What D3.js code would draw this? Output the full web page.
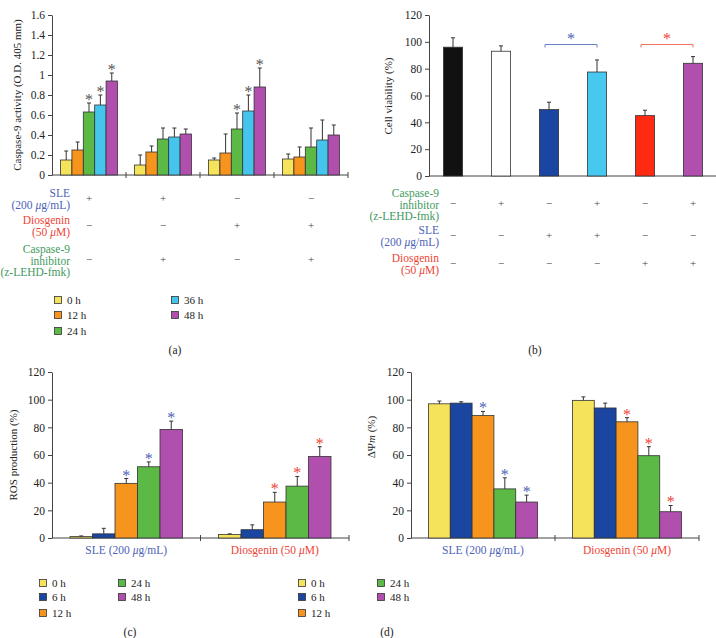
<!DOCTYPE html>
<html>
<head>
<meta charset="utf-8">
<script src="https://cdn.jsdelivr.net/npm/d3@7"></script>
<style>
body { margin: 0; background: #fff; }
svg text { font-family: "Liberation Serif", "DejaVu Serif", serif; }
</style>
</head>
<body>
<svg id="fig" width="716" height="638"></svg>
<script>
// ---- data ----
var timesA = ["0 h", "12 h", "24 h", "36 h", "48 h"]
var colorsA = ["#f6e35c", "#f7941d", "#5cb946", "#45c5ee", "#b04fae"]
var caspaseMean = [
  [0.15, 0.25, 0.63, 0.70, 0.94],
  [0.10, 0.23, 0.36, 0.38, 0.41],
  [0.15, 0.22, 0.46, 0.64, 0.88],
  [0.16, 0.18, 0.28, 0.35, 0.40]]
var caspaseSD = [
  [0.09, 0.08, 0.09, 0.10, 0.08],
  [0.10, 0.06, 0.11, 0.09, 0.05],
  [0.02, 0.19, 0.16, 0.16, 0.19],
  [0.05, 0.10, 0.19, 0.20, 0.10]]
var caspaseStars = [[0,0,1,1,1], [0,0,0,0,0], [0,0,1,1,1], [0,0,0,0,0]]
var tableALabels = [["SLE", "(200 μg/mL)"], ["Diosgenin", "(50 μM)"], ["Caspase-9", "inhibitor", "(z-LEHD-fmk)"]]
var tableASigns = [["+", "+", "−", "−"], ["−", "−", "+", "+"], ["−", "+", "−", "+"]]

var viabilityMean = [96, 93, 49.5, 77.5, 45, 84]
var viabilitySD = [7, 4, 5.5, 9, 4, 5]
var viabilityColors = ["#111111", "#ffffff", "#1a45a0", "#47c8ef", "#ff2a12", "#b04fae"]
var viabilityPairs = [[2, 3], [4, 5]]
var tableBLabels = [["Caspase-9", "inhibitor", "(z-LEHD-fmk)"], ["SLE", "(200 μg/mL)"], ["Diosgenin", "(50 μM)"]]
var tableBSigns = [["−", "+", "−", "+", "−", "+"], ["−", "−", "+", "+", "−", "−"], ["−", "−", "−", "−", "+", "+"]]

var timesCD = ["0 h", "6 h", "12 h", "24 h", "48 h"]
var colorsCD = ["#f6e35c", "#1a45a0", "#f7941d", "#5cb946", "#b04fae"]
var treatments = ["SLE (200 μg/mL)", "Diosgenin (50 μM)"]
var rosMean = [[1, 3, 39.5, 51.5, 78.5], [2.5, 6, 26, 37.5, 59]]
var rosSD = [[0.5, 4, 3.5, 3.5, 6], [0.5, 3.5, 7, 7, 7]]
var mmpMean = [[97, 97.5, 88.5, 35.5, 26], [99.5, 94, 84, 59.5, 19]]
var mmpSD = [[2, 1, 3, 8, 5], [2.5, 3.5, 3, 6.5, 4.5]]
var cdStars = [[0,0,1,1,1], [0,0,1,1,1]]

var blueText = "#4d62b9"
var redText = "#ee4436"
var greenText = "#3f9a60"
var starGrey = "#555"
var labelColors = { "SLE": blueText, "Diosgenin": redText, "Caspase-9": greenText }

var svg = d3.select("#fig")

// text with some italic single characters (mu, m)
function richText(sel, str, italicChars) {
  if (!italicChars) return sel.text(str)
  var re = new RegExp("([" + italicChars + "])")
  str.split(re).forEach(function(p) {
    if (!p) return
    var t = sel.append("tspan").text(p)
    if (p.length === 1 && italicChars.indexOf(p) >= 0) t.style("font-style", "italic")
  })
  return sel
}

function leftAxis(y, x0, ticks, fmt) {
  var g = svg.append("g")
    .attr("transform", `translate(${x0},0)`)
    .call(d3.axisLeft(y).tickValues(ticks).tickFormat(fmt).tickSize(4).tickPadding(3).tickSizeOuter(0))
  g.attr("font-family", null).attr("font-size", null)
  g.selectAll("text").style("font-size", "11.5px").attr("fill", "#222")
  g.selectAll("line, path").attr("stroke", "#444")
  return g
}

function yLabel(x, y, str, italicChars) {
  var t = svg.append("text")
    .attr("transform", `translate(${x},${y}) rotate(-90)`)
    .attr("text-anchor", "middle")
    .style("font-size", "11px")
    .attr("fill", "#222")
  richText(t, str, italicChars)
  return t
}

function baseline(x1, x2, y0, seps) {
  svg.append("line").attr("x1", x1).attr("x2", x2).attr("y1", y0).attr("y2", y0).attr("stroke", "#444")
  seps.forEach(function(s) {
    svg.append("line").attr("x1", s).attr("x2", s).attr("y1", y0 - 3).attr("y2", y0 + 3).attr("stroke", "#444")
  })
}

function errorBar(cx, yTop, yMean) {
  svg.append("line").attr("x1", cx).attr("x2", cx).attr("y1", yMean).attr("y2", yTop).attr("stroke", "#333")
  svg.append("line").attr("x1", cx - 2).attr("x2", cx + 2).attr("y1", yTop).attr("y2", yTop).attr("stroke", "#333")
}

function star(cx, yTop, color) {
  svg.append("text").attr("x", cx).attr("y", yTop + 5)
    .attr("text-anchor", "middle").style("font-size", "16px")
    .attr("fill", color).text("*")
}

// grouped bars with upward error bars and optional asterisks
function groupedBars(groups, keys, colors, means, sds, stars, x0, y, starColor, outerPad) {
  var x1 = d3.scaleBand().domain(keys).range([0, x0.bandwidth()]).paddingOuter(outerPad)
  groups.forEach(function(gk, gi) {
    keys.forEach(function(k, ki) {
      var bx = x0(gk) + x1(k)
      var m = means[gi][ki], s = sds[gi][ki]
      svg.append("rect")
        .attr("x", bx).attr("width", x1.bandwidth())
        .attr("y", y(m)).attr("height", y(0) - y(m))
        .attr("fill", colors[ki]).attr("stroke", "#333").attr("stroke-width", 0.8)
      errorBar(bx + x1.bandwidth() / 2, y(m + s), y(m))
      if (stars[gi][ki]) star(bx + x1.bandwidth() / 2, y(m + s) - 3, starColor(gi))
    })
  })
}

function legend(keys, colors, cols, rowsPerCol, rowYs) {
  keys.forEach(function(k, i) {
    var c = Math.floor(i / rowsPerCol), r = i % rowsPerCol
    var g = svg.append("g").attr("transform", `translate(${cols[c]},${rowYs[r]})`)
    g.append("rect").attr("x", -3.5).attr("y", -3.5).attr("width", 7).attr("height", 7)
      .attr("fill", colors[i]).attr("stroke", "#333").attr("stroke-width", 0.8)
    g.append("text").attr("x", 9).attr("dy", "0.35em").style("font-size", "11px").attr("fill", "#222").text(k)
  })
}

function table(labels, signs, xRight, blockYs, colXs) {
  labels.forEach(function(lines, ri) {
    var color = labelColors[lines[0]]
    var top = blockYs[ri]
    lines.forEach(function(line, li) {
      var t = svg.append("text").attr("x", xRight).attr("y", top + li * 11.5)
        .attr("dy", "0.35em").attr("text-anchor", "end")
        .style("font-size", "11.5px").attr("fill", color)
      richText(t, line, "μ")
    })
    var sy = top + (lines.length - 1) * 11.5 / 2 - 1
    signs[ri].forEach(function(s, ci) {
      svg.append("text").attr("x", colXs[ci]).attr("y", sy).attr("dy", "0.35em")
        .attr("text-anchor", "middle").style("font-size", "11px").attr("fill", "#444").text(s)
    })
  })
}

function panelLetter(x, y, s) {
  svg.append("text").attr("x", x).attr("y", y).attr("dy", "0.35em").attr("text-anchor", "middle")
    .style("font-size", "11.5px").attr("fill", "#222").text(s)
}

// ---- (a) caspase-9 ----
var groupsA = [0, 1, 2, 3]
var xA = d3.scaleBand().domain(groupsA).range([52, 348])
var yA = d3.scaleLinear().domain([0, 1.6]).range([175, 15])
leftAxis(yA, 52, d3.range(0, 1.61, 0.2), d => +d.toFixed(1))
baseline(52, 348, yA(0), [xA(1), xA(2), xA(3), 348])
groupedBars(groupsA, timesA, colorsA, caspaseMean, caspaseSD, caspaseStars, xA, yA, () => starGrey, 0.75)
yLabel(21, 95, "Caspase-9 activity (O.D. 405 mm)")
table(tableALabels, tableASigns, 70, [193, 220, 249], groupsA.map(g => xA(g) + xA.bandwidth() / 2))
legend(timesA, colorsA, [58, 175], 3, [300, 315, 331])
panelLetter(175, 350, "(a)")

// ---- (b) cell viability ----
var idxB = d3.range(viabilityMean.length)
var xB = d3.scaleBand().domain(idxB).range([429, 717]).padding(0.6).paddingOuter(0.3)
var yB = d3.scaleLinear().domain([0, 120]).range([176, 15])
leftAxis(yB, 429, d3.range(0, 121, 20), d3.format("d"))
baseline(429, 716, yB(0), [])
idxB.forEach(function(i) {
  var m = viabilityMean[i], s = viabilitySD[i]
  svg.append("rect").attr("x", xB(i)).attr("width", xB.bandwidth())
    .attr("y", yB(m)).attr("height", yB(0) - yB(m))
    .attr("fill", viabilityColors[i]).attr("stroke", "#333").attr("stroke-width", 0.8)
  errorBar(xB(i) + xB.bandwidth() / 2, yB(m + s), yB(m))
})
var bracketLevel = 98
var bracketColors = ["#6a7fc8", "#f07060"]
var bracketStars = [blueText, redText]
viabilityPairs.forEach(function(p, i) {
  var xa = xB(p[0]) + xB.bandwidth() / 2 - 4, xb = xB(p[1]) + xB.bandwidth() / 2
  var by = yB(bracketLevel)
  svg.append("path").attr("d", `M${xa},${by + 3}V${by}H${xb}V${by + 3}`)
    .attr("fill", "none").attr("stroke", bracketColors[i])
  star((xa + xb) / 2, by - 6, bracketStars[i])
})
yLabel(392, 96, "Cell viability (%)")
table(tableBLabels, tableBSigns, 439, [193, 230, 258], idxB.map(i => xB(i) + xB.bandwidth() / 2))
panelLetter(535, 350, "(b)")

// ---- (c) ROS & (d) mitochondrial membrane potential ----
function panelCD(xLeft, xRight, means, sds, label, italicChars, labelY, labelX, legendCols, letterX, letter) {
  var x0 = d3.scaleBand().domain(treatments).range([xLeft, xRight])
  var y = d3.scaleLinear().domain([0, 120]).range([538, 372])
  leftAxis(y, xLeft, d3.range(0, 121, 20), d3.format("d"))
  baseline(xLeft, xRight, y(0), [x0(treatments[1]), xRight])
  groupedBars(treatments, timesCD, colorsCD, means, sds, cdStars, x0, y, gi => gi === 0 ? blueText : redText, 0.8)
  treatments.forEach(function(t, i) {
    var tx = svg.append("text").attr("x", x0(t) + x0.bandwidth() / 2).attr("y", 550).attr("dy", "0.35em")
      .attr("text-anchor", "middle").style("font-size", "11.5px").attr("fill", i === 0 ? blueText : redText)
    richText(tx, t, "μ")
  })
  yLabel(labelX, labelY, label, italicChars)
  legend(timesCD, colorsCD, legendCols, 3, [583, 597, 613])
  panelLetter(letterX, 632, letter)
}

panelCD(52, 349, rosMean, rosSD, "ROS production (%)", null, 455, 17, [43, 122], 130, "(c)")
panelCD(411, 699, mmpMean, mmpSD, "ΔΨm (%)", "m", 437, 375, [302, 381], 387, "(d)")
</script>
</body>
</html>
